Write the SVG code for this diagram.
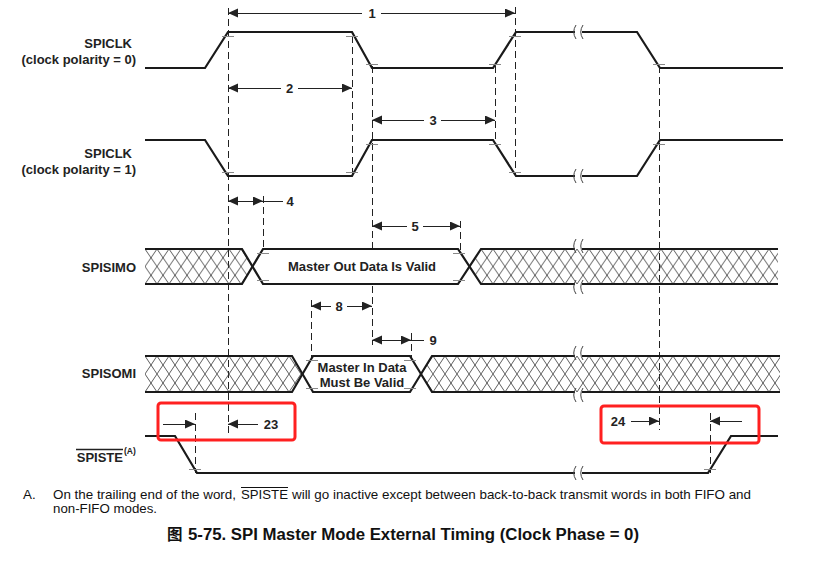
<svg xmlns="http://www.w3.org/2000/svg" width="829" height="561" viewBox="0 0 829 561">
<defs>
<style>
.sig{fill:none;stroke:#1a1a1a;stroke-width:2.2;stroke-linejoin:miter}
.dash{fill:none;stroke:#222;stroke-width:1;stroke-dasharray:7 4;shape-rendering:crispEdges}
.tick{stroke:#888;stroke-width:1;shape-rendering:crispEdges}
.dim{fill:none;stroke:#222;stroke-width:1;shape-rendering:crispEdges}
.brk{fill:none;stroke:#444;stroke-width:1}
.lbl{font-family:"Liberation Sans",Arial,sans-serif;font-weight:bold;font-size:13px;fill:#222}
.num{font-family:"Liberation Sans",Arial,sans-serif;font-weight:bold;font-size:13px;fill:#222;text-anchor:middle}
.note{font-family:"Liberation Sans",Arial,sans-serif;font-size:13.4px;fill:#111}
.red{fill:none;stroke:#ff2020;stroke-width:3}
</style>
<marker id="ah" markerUnits="userSpaceOnUse" markerWidth="11" markerHeight="10" refX="10" refY="4.5" orient="auto-start-reverse"><path d="M0,0 L10,4.5 L0,9 z" fill="#222"/></marker>
<pattern id="hatchA" patternUnits="userSpaceOnUse" x="145" y="249" width="12" height="17.5"><path d="M0,0 L12,17.5 M12,0 L0,17.5" stroke="#333" stroke-width="0.8" fill="none"/></pattern>
<pattern id="hatchB" patternUnits="userSpaceOnUse" x="145" y="356" width="12" height="18"><path d="M0,0 L12,18 M12,0 L0,18" stroke="#333" stroke-width="0.8" fill="none"/></pattern>
<path id="brkS" d="M2,-7 Q-2.5,0 2,7"/>
</defs>

<g id="guides">
<path class="dash" d="M228,8 V433 M352,36 V178 M372,66 V345 M495,66 V143 M515,7 V176 M659,66 V430 M263,196 V253 M460,221 V282 M311,300 V360 M411,333 V360 M195,413 V473 M710,413 V473"/>
</g>

<g id="labels">
<text class="lbl" x="132" y="48" text-anchor="end">SPICLK</text>
<text class="lbl" x="136" y="64" text-anchor="end">(clock polarity = 0)</text>
<text class="lbl" x="132" y="158" text-anchor="end">SPICLK</text>
<text class="lbl" x="136" y="174" text-anchor="end">(clock polarity = 1)</text>
<text class="lbl" x="136" y="272" text-anchor="end">SPISIMO</text>
<text class="lbl" x="136" y="378" text-anchor="end">SPISOMI</text>
<text class="lbl" x="123" y="462" text-anchor="end">SPISTE</text>
<line x1="76" y1="449.5" x2="123" y2="449.5" stroke="#222" stroke-width="1.3"/>
<text class="lbl" x="124" y="454" style="font-size:8.5px">(A)</text>
</g>

<g id="spiclk0">
<path class="sig" d="M145,68 L205,68 L228,32 L352,32 L372,68 L493,68 L516,32 L575,32 M582,32 L637,32 L660,68 L783,68"/>
<use href="#brkS" class="brk" x="574" y="32"/><use href="#brkS" class="brk" x="581" y="32"/>
</g>
<g id="spiclk1">
<path class="sig" d="M145,140 L205,140 L228,176 L352,176 L372,140 L493,140 L516,176 L575,176 M582,176 L637,176 L660,140 L783,140"/>
<use href="#brkS" class="brk" x="574" y="176"/><use href="#brkS" class="brk" x="581" y="176"/>
</g>

<g id="spisimo">
<polygon points="252.5,266.5 263,249 458,249 469.5,266.5 458,284 263,284" fill="#fff"/>
<polygon points="145,249 242,249 252.5,266.5 242,284 145,284" fill="url(#hatchA)"/>
<polygon points="469.5,266.5 481,249 778,249 778,284 481,284" fill="url(#hatchA)"/>
<path class="sig" d="M145,249 L242,249 L263,284 L458,284 L481,249 L575,249 M582,249 L778,249"/>
<path class="sig" d="M145,284 L242,284 L263,249 L458,249 L481,284 L575,284 M582,284 L778,284"/>
<use href="#brkS" class="brk" x="574" y="246"/><use href="#brkS" class="brk" x="581" y="246"/>
<use href="#brkS" class="brk" x="574" y="287"/><use href="#brkS" class="brk" x="581" y="287"/>
<text class="num" x="362" y="271">Master Out Data Is Valid</text>
</g>

<g id="spisomi">
<polygon points="302.5,374 313,356 410,356 421,374 410,392 313,392" fill="#fff"/>
<polygon points="145,356 292,356 302.5,374 292,392 145,392" fill="url(#hatchB)"/>
<polygon points="421,374 432,356 780,356 780,392 432,392" fill="url(#hatchB)"/>
<path class="sig" d="M145,356 L292,356 L313,392 L410,392 L432,356 L575,356 M582,356 L780,356"/>
<path class="sig" d="M145,392 L292,392 L313,356 L410,356 L432,392 L575,392 M582,392 L780,392"/>
<use href="#brkS" class="brk" x="574" y="353"/><use href="#brkS" class="brk" x="581" y="353"/>
<use href="#brkS" class="brk" x="574" y="395"/><use href="#brkS" class="brk" x="581" y="395"/>
<text class="num" x="362" y="372">Master In Data</text>
<text class="num" x="362" y="387">Must Be Valid</text>
</g>

<g id="spiste">
<path class="sig" d="M145,436 L175,436 L197,473 L575,473 M582,473 L708,473 L731,436 L778,436"/>
<use href="#brkS" class="brk" x="574" y="473"/><use href="#brkS" class="brk" x="581" y="473"/>
</g>

<g id="ticks">
<path class="tick" d="M222,36 h12 M346,36 h12 M366,64 h12 M489,64 h12 M509,36 h12 M653,64 h12
M222,172 h12 M346,172 h12 M366,144 h12 M489,144 h12 M509,172 h12 M653,144 h12
M257,253 h12 M257,280 h12 M453,253 h12 M453,280 h12
M306,360 h12 M306,388 h12 M404,360 h12 M404,388 h12
M189,469 h12 M704,469 h12"/>
</g>

<g id="connectors">
<line class="dim" x1="228" y1="13" x2="362" y2="13" marker-start="url(#ah)"/>
<line class="dim" x1="381" y1="13" x2="515" y2="13" marker-end="url(#ah)"/>
<line class="dim" x1="228" y1="88" x2="281" y2="88" marker-start="url(#ah)"/>
<line class="dim" x1="298" y1="88" x2="352" y2="88" marker-end="url(#ah)"/>
<line class="dim" x1="372" y1="120" x2="424" y2="120" marker-start="url(#ah)"/>
<line class="dim" x1="441" y1="120" x2="495" y2="120" marker-end="url(#ah)"/>
<line class="dim" x1="228" y1="201" x2="263" y2="201" marker-start="url(#ah)" marker-end="url(#ah)"/>
<line class="dim" x1="263" y1="201" x2="283" y2="201"/>
<line class="dim" x1="372" y1="226" x2="407" y2="226" marker-start="url(#ah)"/>
<line class="dim" x1="423" y1="226" x2="460" y2="226" marker-end="url(#ah)"/>
<line class="dim" x1="311" y1="306" x2="331" y2="306" marker-start="url(#ah)"/>
<line class="dim" x1="347" y1="306" x2="372" y2="306" marker-end="url(#ah)"/>
<line class="dim" x1="372" y1="340" x2="411" y2="340" marker-start="url(#ah)" marker-end="url(#ah)"/>
<line class="dim" x1="411" y1="340" x2="424" y2="340"/>
<line class="dim" x1="163" y1="424" x2="195" y2="424" marker-end="url(#ah)"/>
<line class="dim" x1="228" y1="424" x2="258" y2="424" marker-start="url(#ah)"/>
<line class="dim" x1="631" y1="421" x2="659" y2="421" marker-end="url(#ah)"/>
<line class="dim" x1="710" y1="421" x2="742" y2="421" marker-start="url(#ah)"/>
<text class="num" x="372" y="18">1</text>
<text class="num" x="289.5" y="93">2</text>
<text class="num" x="433" y="125">3</text>
<text class="num" x="290" y="206">4</text>
<text class="num" x="415" y="231">5</text>
<text class="num" x="339" y="311">8</text>
<text class="num" x="433" y="345">9</text>
<text class="num" x="271" y="429">23</text>
<text class="num" x="618" y="426">24</text>
</g>

<g id="highlights">
<rect class="red" x="158" y="403" width="137" height="37" rx="3"/>
<rect class="red" x="601" y="406" width="158" height="37" rx="3"/>
</g>

<g id="footnote">
<text class="note" x="23" y="499">A.</text>
<text class="note" x="53" y="499" textLength="183" lengthAdjust="spacingAndGlyphs">On the trailing end of the word,</text>
<text class="note" x="241" y="499" textLength="47" lengthAdjust="spacingAndGlyphs">SPISTE</text>
<line x1="241" y1="487.5" x2="288" y2="487.5" stroke="#111" stroke-width="1"/>
<text class="note" x="292" y="499" textLength="459" lengthAdjust="spacingAndGlyphs">will go inactive except between back-to-back transmit words in both FIFO and</text>
<text class="note" x="53" y="513" textLength="104" lengthAdjust="spacingAndGlyphs">non-FIFO modes.</text>
</g>

<g id="caption">
<text x="167" y="540" style="font-family:'Noto Sans CJK SC',sans-serif;font-weight:bold;font-size:15.5px;fill:#111">图</text>
<text x="188" y="540" textLength="451" lengthAdjust="spacingAndGlyphs" style="font-family:'Liberation Sans',Arial,sans-serif;font-weight:bold;font-size:16px;fill:#111">5-75. SPI Master Mode External Timing (Clock Phase = 0)</text>
</g>
</svg>
